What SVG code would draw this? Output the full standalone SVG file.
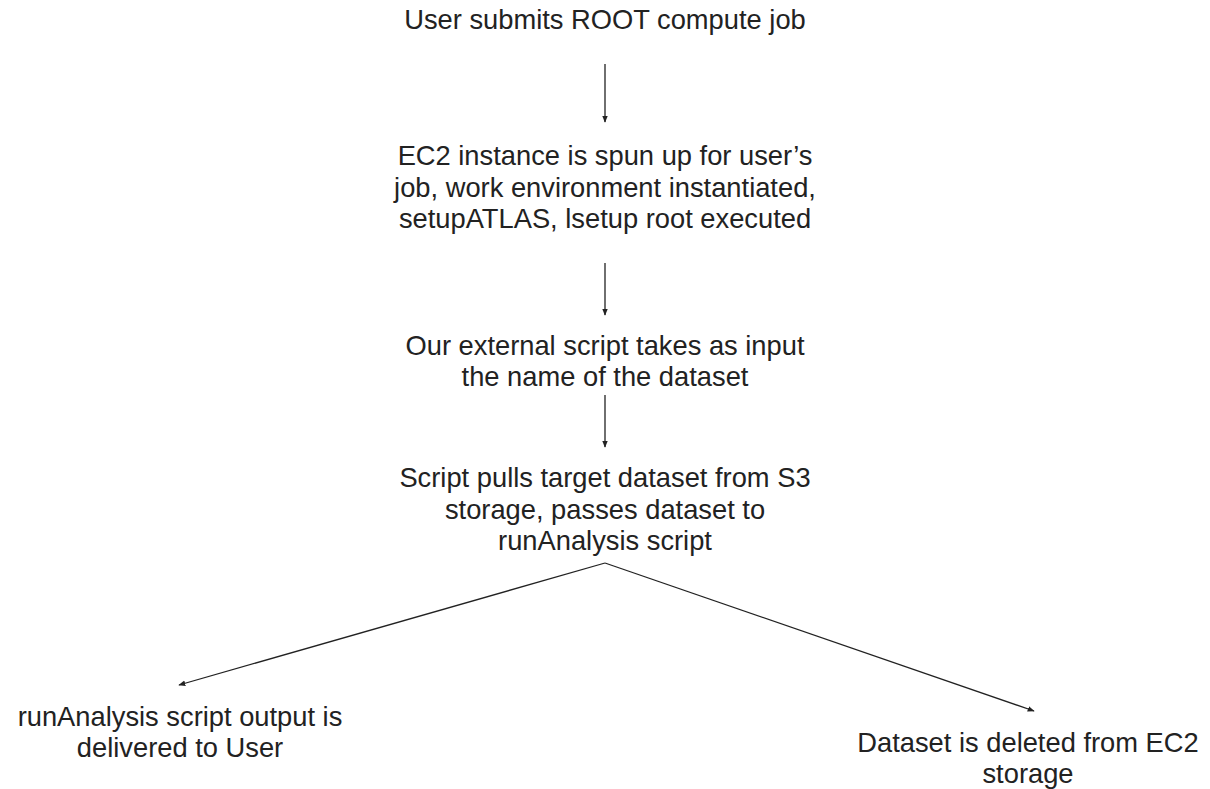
<svg xmlns="http://www.w3.org/2000/svg" width="1210" height="789" viewBox="0 0 1210 789">
<style>
text{font-family:"Liberation Sans",Arial,sans-serif;font-size:27.3px;fill:#222;text-anchor:middle}
.c{stroke:#222;stroke-width:1.3;fill:none;marker-end:url(#ah)}
</style>
<defs>
<marker id="ah" viewBox="0 0 10 10" refX="9" refY="5" markerWidth="7" markerHeight="7" markerUnits="userSpaceOnUse" orient="auto">
<path d="M0,1 L10,5 L0,9 z" fill="#222"/>
</marker>
</defs>
<rect width="1210" height="789" fill="#fff"/>
<g id="n1"><text x="605" y="29">User submits ROOT compute job</text></g>
<g id="n2"><text x="605" y="165">EC2 instance is spun up for user’s</text><text x="605" y="196.5">job, work environment instantiated,</text><text x="605" y="228">setupATLAS, lsetup root executed</text></g>
<g id="n3"><text x="605" y="355">Our external script takes as input</text><text x="605" y="386">the name of the dataset</text></g>
<g id="n4"><text x="605" y="487">Script pulls target dataset from S3</text><text x="605" y="518.5">storage, passes dataset to</text><text x="605" y="550">runAnalysis script</text></g>
<g id="n5"><text x="180" y="726">runAnalysis script output is</text><text x="180" y="757">delivered to User</text></g>
<g id="n6"><text x="1028" y="752">Dataset is deleted from EC2</text><text x="1028" y="783">storage</text></g>
<g id="connectors">
<path class="c" d="M605,64 L605,122"/>
<path class="c" d="M605,263 L605,315"/>
<path class="c" d="M605,395 L605,447"/>
<path class="c" d="M605,563 L179,685"/>
<path class="c" d="M605,563 L1034,711"/>
</g>
</svg>
